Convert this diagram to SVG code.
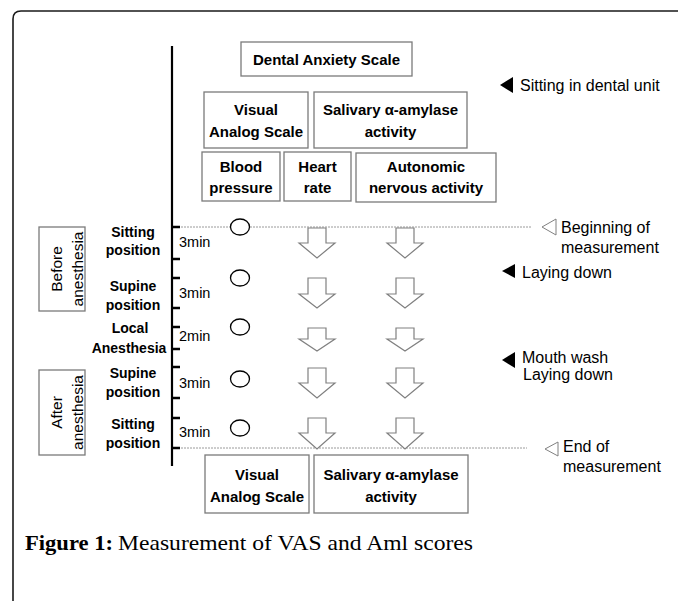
<svg xmlns="http://www.w3.org/2000/svg" width="678" height="601" viewBox="0 0 678 601">
<style>
.box{fill:#fff;stroke:#7a7a7a;stroke-width:1.3}
.b{font-family:"Liberation Sans",Arial,sans-serif;font-weight:bold;font-size:15px;fill:#000;text-anchor:middle}
.lb{font-family:"Liberation Sans",Arial,sans-serif;font-weight:bold;font-size:14px;fill:#000;text-anchor:middle}
.r{font-family:"Liberation Sans",Arial,sans-serif;font-size:16px;fill:#000}
.m{font-family:"Liberation Sans",Arial,sans-serif;font-size:14.5px;fill:#000}
.rot{font-family:"Liberation Sans",Arial,sans-serif;font-size:15.5px;fill:#000;text-anchor:middle}
.arr{fill:#fff;stroke:#808080;stroke-width:1.2;stroke-linejoin:miter}
.circ{fill:#fff;stroke:#000;stroke-width:1.3}
.dash{stroke:#9a9a9a;stroke-width:1;stroke-dasharray:2 1;fill:none}
.tick{stroke:#000;stroke-width:2.5}
.ft{fill:#000}
.ot{fill:#fff;stroke:#808080;stroke-width:1}
</style>
<path d="M13,601 V19 Q13,11 21,11 H678" fill="none" stroke="#1a1a1a" stroke-width="1.6"/>

<g id="timeline">
<line x1="172" y1="46" x2="172" y2="466" stroke="#000" stroke-width="2.2"/>
<line class="dash" x1="172" y1="227" x2="532" y2="227"/>
<line class="dash" x1="172" y1="448" x2="527" y2="448"/>
<line class="tick" x1="172" y1="227" x2="180" y2="227"/>
<line class="tick" x1="172" y1="259" x2="180" y2="259"/>
<line class="tick" x1="172" y1="278" x2="180" y2="278"/>
<line class="tick" x1="172" y1="308" x2="180" y2="308"/>
<line class="tick" x1="172" y1="327" x2="180" y2="327"/>
<line class="tick" x1="172" y1="349" x2="180" y2="349"/>
<line class="tick" x1="172" y1="367" x2="180" y2="367"/>
<line class="tick" x1="172" y1="398" x2="180" y2="398"/>
<line class="tick" x1="172" y1="418" x2="180" y2="418"/>
<line class="tick" x1="172" y1="448" x2="180" y2="448"/>
<text class="m" x="179" y="247">3min</text>
<text class="m" x="179" y="298">3min</text>
<text class="m" x="179" y="341">2min</text>
<text class="m" x="179" y="388">3min</text>
<text class="m" x="179" y="437">3min</text>
</g>

<g id="dental-anxiety-scale"><rect class="box" x="241" y="42" width="171" height="34"/><text class="b" x="326.5" y="65">Dental Anxiety Scale</text></g>
<g id="vas-top"><rect class="box" x="204" y="92" width="104" height="56"/><text class="b" x="256" y="115">Visual</text><text class="b" x="256" y="137">Analog Scale</text></g>
<g id="amylase-top"><rect class="box" x="314" y="92" width="153" height="56"/><text class="b" x="390.5" y="115">Salivary α-amylase</text><text class="b" x="390.5" y="137">activity</text></g>
<g id="blood-pressure"><rect class="box" x="202" y="152" width="78" height="49"/><text class="b" x="241" y="172">Blood</text><text class="b" x="241" y="193">pressure</text></g>
<g id="heart-rate"><rect class="box" x="284" y="152" width="67" height="49"/><text class="b" x="317.5" y="172">Heart</text><text class="b" x="317.5" y="193">rate</text></g>
<g id="autonomic"><rect class="box" x="356" y="153" width="140" height="49"/><text class="b" x="426" y="172">Autonomic</text><text class="b" x="426" y="193">nervous activity</text></g>
<g id="vas-bottom"><rect class="box" x="205" y="455" width="104" height="58"/><text class="b" x="257" y="480">Visual</text><text class="b" x="257" y="502">Analog Scale</text></g>
<g id="amylase-bottom"><rect class="box" x="314" y="455" width="154" height="58"/><text class="b" x="391" y="480">Salivary α-amylase</text><text class="b" x="391" y="502">activity</text></g>

<g id="before-anesthesia"><rect class="box" x="39" y="227" width="46" height="84"/><text class="rot" transform="translate(62,269) rotate(-90)">Before</text><text class="rot" transform="translate(83,269) rotate(-90)">anesthesia</text></g>
<g id="after-anesthesia"><rect class="box" x="39" y="370" width="46" height="85"/><text class="rot" transform="translate(62,412.5) rotate(-90)">After</text><text class="rot" transform="translate(83,412.5) rotate(-90)">anesthesia</text></g>

<g id="phase-labels">
<text class="lb" x="133" y="237">Sitting</text><text class="lb" x="133" y="255">position</text>
<text class="lb" x="133" y="291">Supine</text><text class="lb" x="133" y="310">position</text>
<text class="lb" x="130" y="333">Local</text><text class="lb" x="129" y="353">Anesthesia</text>
<text class="lb" x="133" y="378">Supine</text><text class="lb" x="133" y="397">position</text>
<text class="lb" x="133" y="429">Sitting</text><text class="lb" x="133" y="448">position</text>
</g>

<g id="bp-measurements">
<ellipse class="circ" cx="240" cy="227" rx="9.5" ry="8"/>
<ellipse class="circ" cx="240" cy="278" rx="9.5" ry="8"/>
<ellipse class="circ" cx="240" cy="327" rx="9.5" ry="8"/>
<ellipse class="circ" cx="240" cy="379" rx="9.5" ry="8"/>
<ellipse class="circ" cx="240" cy="428" rx="9.5" ry="8"/>
</g>

<g id="connectors">
<path class="arr" d="M308,228 H326 V243 H335 L317,258 L299,243 H308 Z"/>
<path class="arr" d="M396,228 H414 V243 H423 L405,258 L387,243 H396 Z"/>
<path class="arr" d="M308,278 H326 V294 H335 L317,308 L299,294 H308 Z"/>
<path class="arr" d="M396,278 H414 V294 H423 L405,308 L387,294 H396 Z"/>
<path class="arr" d="M308,328 H326 V339 H335 L317,351 L299,339 H308 Z"/>
<path class="arr" d="M396,328 H414 V339 H423 L405,351 L387,339 H396 Z"/>
<path class="arr" d="M308,368 H326 V383 H335 L317,398 L299,383 H308 Z"/>
<path class="arr" d="M396,368 H414 V383 H423 L405,398 L387,383 H396 Z"/>
<path class="arr" d="M308,418 H326 V433 H335 L317,449 L299,433 H308 Z"/>
<path class="arr" d="M396,418 H414 V433 H423 L405,449 L387,433 H396 Z"/>
</g>

<g id="annotations">
<polygon class="ft" points="500,85 513,77 513,93"/>
<text class="r" x="520" y="91">Sitting in dental unit</text>
<polygon class="ot" points="542,227 556,219 556,235"/>
<text class="r" x="561" y="233">Beginning of</text>
<text class="r" x="561" y="253">measurement</text>
<polygon class="ft" points="502,271 515,264 515,278"/>
<text class="r" x="522" y="278">Laying down</text>
<polygon class="ft" points="502,360 515,352 515,368"/>
<text class="r" x="522" y="363">Mouth wash</text>
<text class="r" x="523" y="380">Laying down</text>
<polygon class="ot" points="545,449 558,442 558,456"/>
<text class="r" x="563" y="452">End of</text>
<text class="r" x="563" y="472">measurement</text>
</g>

<g id="caption">
<text x="25" y="550" font-family="'Liberation Serif','Times New Roman',serif" font-weight="bold" font-size="21" textLength="88" lengthAdjust="spacingAndGlyphs">Figure 1:</text>
<text x="118" y="550" font-family="'Liberation Serif','Times New Roman',serif" font-size="21" textLength="355" lengthAdjust="spacingAndGlyphs">Measurement of VAS and Aml scores</text>
</g>
</svg>
